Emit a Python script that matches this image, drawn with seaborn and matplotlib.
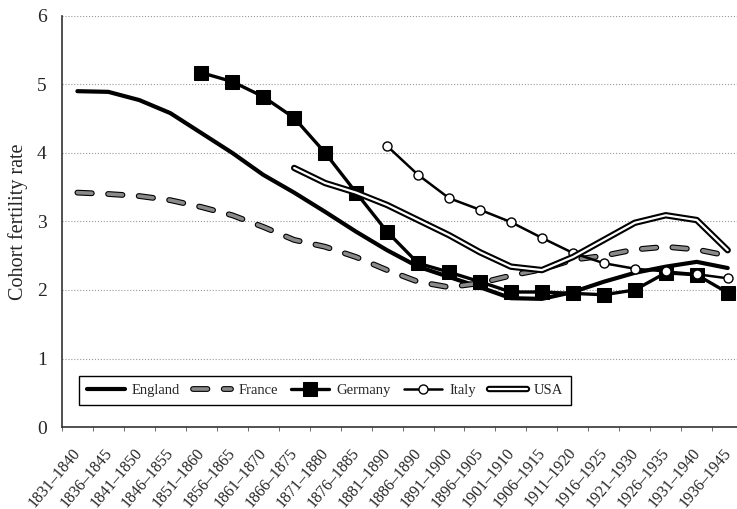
import numpy as np
import pandas as pd
import seaborn as sns
import matplotlib.pyplot as plt
import matplotlib.patheffects as pe
from matplotlib.transforms import ScaledTranslation

# cohort periods (x categories)
periods = ['1831–1840', '1836–1845', '1841–1850', '1846–1855', '1851–1860',
           '1856–1865', '1861–1870', '1866–1875', '1871–1880', '1876–1885',
           '1881–1890', '1886–1890', '1891–1900', '1896–1905', '1901–1910',
           '1906–1915', '1911–1920', '1916–1925', '1921–1930', '1926–1935',
           '1931–1940', '1936–1945']
nan = np.nan
england = [4.90, 4.89, 4.77, 4.58, 4.29, 4.00, 3.68, 3.42, 3.14, 2.85, 2.58,
           2.34, 2.19, 2.04, 1.88, 1.87, 1.97, 2.12, 2.25, 2.34, 2.41, 2.32]
france = [3.42, 3.40, 3.37, 3.31, 3.21, 3.09, 2.92, 2.73, 2.63, 2.48, 2.29,
          2.12, 2.04, 2.10, 2.21, 2.30, 2.44, 2.50, 2.59, 2.63, 2.59, 2.50]
germany = [nan, nan, nan, nan, 5.17, 5.04, 4.82, 4.51, 4.00, 3.42, 2.85,
           2.39, 2.26, 2.12, 1.97, 1.97, 1.95, 1.93, 2.00, 2.25, 2.22, 1.96]
italy = [nan, nan, nan, nan, nan, nan, nan, nan, nan, nan, 4.10,
         3.68, 3.34, 3.17, 2.99, 2.76, 2.54, 2.39, 2.31, 2.27, 2.23, 2.17]
usa = [nan, nan, nan, nan, nan, nan, nan, 3.78, 3.56, 3.42, 3.24,
       3.02, 2.80, 2.55, 2.34, 2.29, 2.48, 2.73, 2.98, 3.09, 3.02, 2.58]

idx = np.arange(len(periods))
df = pd.DataFrame({'idx': idx, 'England': england, 'France': france,
                   'Germany': germany, 'Italy': italy, 'USA': usa})

sns.set_style('ticks')
plt.rcParams['font.family'] = ['Liberation Serif', 'DejaVu Serif']

fig = plt.figure(figsize=(7.37, 5.09), dpi=100)
ax = fig.add_axes([0.084, 0.161, 0.916, 0.808])

sns.lineplot(data=df, x='idx', y='England', ax=ax, color='black',
             linewidth=3, label='England')
sns.lineplot(data=df, x='idx', y='France', ax=ax, color='#8a8a8a',
             linewidth=2.6, linestyle=(0, (4, 4.5)), dash_capstyle='round',
             label='France',
             path_effects=[pe.Stroke(linewidth=4.2, foreground='black'), pe.Normal()])
sns.lineplot(data=df, x='idx', y='Germany', ax=ax, color='black',
             linewidth=2.4, marker='s', markersize=10,
             markerfacecolor='black', markeredgecolor='black', label='Germany')
sns.lineplot(data=df, x='idx', y='Italy', ax=ax, color='black',
             linewidth=1.8, marker='o', markersize=6.5, markerfacecolor='white',
             markeredgecolor='black', markeredgewidth=1.0, label='Italy')
sns.lineplot(data=df, x='idx', y='USA', ax=ax, color='white',
             linewidth=1.6, solid_capstyle='round', label='USA',
             path_effects=[pe.Stroke(linewidth=4.6, foreground='black'), pe.Normal()])

ax.set_xlim(-0.5, 21.3)
ax.set_ylim(0, 6)
ax.set_yticks(range(7))
ax.set_xticks(idx)
ax.set_xticks(np.arange(-0.5, 21.5, 1), minor=True)
ax.tick_params(axis='y', labelsize=14, length=0, pad=11)
ax.tick_params(axis='x', which='major', length=0, pad=13)
ax.tick_params(axis='x', which='minor', length=3, color='#555555')
ax.set_xticklabels(periods, rotation=50, ha='right', va='top', fontsize=11.5)
# shift the slanted labels a little to the right, like the original
offset = ScaledTranslation(7 / 100, 0, fig.dpi_scale_trans)
for lab in ax.get_xticklabels():
    lab.set_transform(lab.get_transform() + offset)
ax.yaxis.grid(True, linestyle=':', color='#999999', linewidth=0.8)
ax.set_axisbelow(True)
ax.set_xlabel('')
ax.set_ylabel('Cohort fertility rate', fontsize=14.5, labelpad=6)
sns.despine(ax=ax)
for s in ['left', 'bottom']:
    ax.spines[s].set_color('#333333')
    ax.spines[s].set_linewidth(1.2)

leg = ax.legend(loc='lower left', bbox_to_anchor=(0.025, 0.054), ncol=5,
                fancybox=False, edgecolor='black', framealpha=1, fontsize=10.5,
                handlelength=2.6, handletextpad=0.5, columnspacing=0.9,
                borderpad=0.55, borderaxespad=0)
leg.get_frame().set_linewidth(1.0)

fig.savefig('out.png', dpi=100)
